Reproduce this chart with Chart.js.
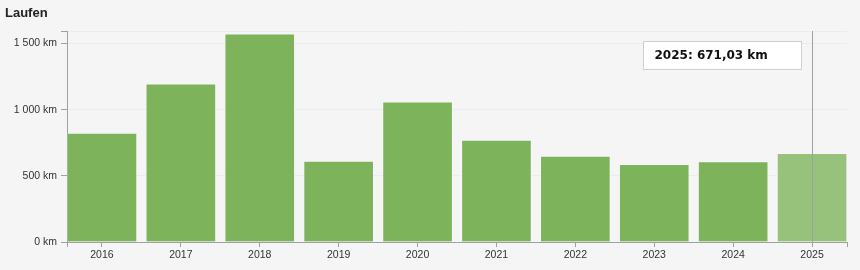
<!DOCTYPE html>
<html>
<head>
<meta charset="utf-8">
<script src="https://cdn.jsdelivr.net/npm/chart.js@4"></script>
<style>
    html, body { margin: 0; padding: 0; background: #f5f5f5; }
    #wrap { width: 860px; height: 270px; }
</style>
</head>
<body>
<div id="wrap"><canvas id="runChart" width="860" height="270"></canvas></div>
<script>
const years = [2016, 2017, 2018, 2019, 2020, 2021, 2022, 2023, 2024, 2025];
const distances = [824, 1195, 1574, 612, 1059, 771, 649, 587, 607, 671.03];
const yTicks = [0, 500, 1000, 1500];
const yMax = 1595;
const hoverYear = 2025;

const barColor = '#7db35b';
const hoverColor = '#97c27b';

const formatKm = v => String(v).replace(/\B(?=(\d{3})+(?!\d))/g, ' ') + ' km';
const formatKmTooltip = v => v.toFixed(2).replace('.', ',') + ' km';

// half bar width in year units, so bars touch the ends of the x axis
const halfBar = 35 / 79;
const xMin = years[0] - halfBar;
const xMax = years[years.length - 1] + halfBar;

const hoverPlugin = {
    id: 'hoverPlugin',
    afterDatasetsDraw(chart) {
        const { ctx, chartArea, scales } = chart;
        const idx = years.indexOf(hoverYear);
        const x = Math.round(scales.x.getPixelForValue(hoverYear)) + 0.5;
        ctx.save();
        ctx.strokeStyle = '#a0a0a0';
        ctx.lineWidth = 1;
        ctx.beginPath();
        ctx.moveTo(x, chartArea.top);
        ctx.lineTo(x, chartArea.bottom);
        ctx.stroke();

        const boxX = x - 169, boxY = 41.5, boxW = 158, boxH = 28;
        ctx.fillStyle = '#ffffff';
        ctx.fillRect(boxX, boxY, boxW, boxH);
        ctx.strokeStyle = '#d0d0d0';
        ctx.strokeRect(boxX, boxY, boxW, boxH);
        ctx.fillStyle = '#111';
        ctx.font = 'bold 12px "DejaVu Sans"';
        ctx.textBaseline = 'middle';
        ctx.fillText(hoverYear + ': ' + formatKmTooltip(distances[idx]), boxX + 11, boxY + boxH / 2 + 0.5);
        ctx.restore();
    }
};

const tickFont = { family: '"Liberation Sans", Arial, sans-serif', size: 10.5 };

const ctx = document.getElementById('runChart').getContext('2d');
new Chart(ctx, {
    type: 'bar',
    data: {
        datasets: [{
            data: years.map((y, i) => ({ x: y, y: distances[i] })),
            backgroundColor: years.map(y => y === hoverYear ? hoverColor : barColor),
            borderColor: 'rgba(255,255,255,0.25)',
            borderWidth: 1,
            borderSkipped: 'bottom',
            barThickness: 70
        }]
    },
    options: {
        responsive: false,
        animation: false,
        events: [],
        layout: { padding: { left: 5, right: 13, top: 0, bottom: 0 } },
        plugins: {
            legend: { display: false },
            tooltip: { enabled: false },
            title: {
                display: true,
                text: 'Laufen',
                align: 'start',
                color: '#222',
                font: { family: '"Liberation Sans", Arial, sans-serif', size: 13, weight: 'bold' },
                padding: { top: 6, bottom: 9.4 }
            }
        },
        scales: {
            x: {
                type: 'linear',
                min: xMin,
                max: xMax,
                offset: false,
                afterFit: s => { s.height = 28; },
                afterBuildTicks: s => {
                    s.ticks = [xMin, ...years, xMax].map(v => ({ value: v }));
                },
                border: { display: true, color: '#a0a0a0', width: 1 },
                grid: {
                    offset: false,
                    drawOnChartArea: false,
                    drawTicks: true,
                    tickLength: 5,
                    tickColor: '#a0a0a0'
                },
                ticks: {
                    autoSkip: false,
                    maxRotation: 0,
                    padding: 2,
                    color: '#333',
                    font: tickFont,
                    callback: v => years.includes(v) ? String(v) : ''
                }
            },
            y: {
                min: 0,
                max: yMax,
                afterFit: s => { s.width = 62; },
                afterBuildTicks: s => {
                    s.ticks = [...yTicks, yMax].map(v => ({ value: v }));
                },
                border: { display: true, color: '#a0a0a0', width: 1 },
                grid: {
                    color: 'rgba(0,0,0,0.035)',
                    drawTicks: true,
                    tickLength: 6,
                    tickColor: '#a0a0a0'
                },
                ticks: {
                    autoSkip: false,
                    padding: 4,
                    color: '#333',
                    font: tickFont,
                    callback: v => yTicks.includes(v) ? formatKm(v) : ''
                }
            }
        }
    },
    plugins: [hoverPlugin]
});
</script>
</body>
</html>
